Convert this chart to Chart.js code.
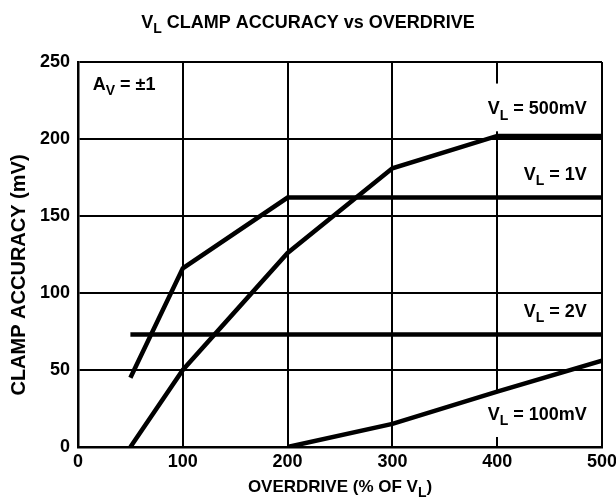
<!DOCTYPE html>
<html>
<head>
<meta charset="utf-8">
<script src="https://cdn.jsdelivr.net/npm/chart.js@4/dist/chart.umd.min.js"></script>
<style>
  html, body { margin: 0; padding: 0; background: #fff; }
  canvas { display: block; }
</style>
</head>
<body>
<canvas id="clampChart" width="616" height="499"></canvas>
<script>
// Curvas de precision del clamp (x = % de sobreexcitacion, y = mV)
const overdrive1V = [50, 100, 200, 500];
const accuracy1V = [45, 116, 162, 162];

const overdrive500mV = [50, 100, 200, 300, 400, 500];
const accuracy500mV = [0, 50, 126, 181, 202, 202];

const overdrive2V = [50, 500];
const accuracy2V = [73, 73];

const overdrive100mV = [200, 300, 400, 500];
const accuracy100mV = [0, 15, 36, 56];

const xTicks = [0, 100, 200, 300, 400, 500];
const yTicks = [0, 50, 100, 150, 200, 250];

const FONT = '"Liberation Sans", Arial, sans-serif';
const SIZE = 18;

// Junta x e y en puntos para el eje lineal
const toPoints = (xs, ys) => xs.map((x, i) => ({ x: x, y: ys[i] }));

const serie = (label, xs, ys) => ({
    label: label,
    data: toPoints(xs, ys),
    borderColor: '#000',
    borderWidth: 4.5,
    borderCapStyle: 'butt',
    pointRadius: 0,
    tension: 0,
    fill: false
});

// Dibuja texto con subindices: partes = [[texto, esSub], ...]
function drawParts(ctx, parts, x, y, size, align) {
    const subSize = Math.round(size * 0.8);
    let total = 0;
    parts.forEach(([t, sub]) => {
        ctx.font = `bold ${sub ? subSize : size}px ${FONT}`;
        total += ctx.measureText(t).width;
    });
    let cx = align === 'right' ? x - total : align === 'center' ? x - total / 2 : x;
    ctx.textAlign = 'left';
    ctx.textBaseline = 'alphabetic';
    parts.forEach(([t, sub]) => {
        ctx.font = `bold ${sub ? subSize : size}px ${FONT}`;
        ctx.fillText(t, cx, sub ? y + size * 0.3 : y);
        cx += ctx.measureText(t).width;
    });
    return total;
}

// Etiquetas de texto sobre el grafico
const textos = {
    id: 'textos',
    beforeDatasetsDraw(chart) {
        // caja blanca detras de las etiquetas que cruzan la rejilla
        const ctx = chart.ctx;
        const xs = chart.scales.x;
        const ys = chart.scales.y;
        ctx.save();
        ctx.fillStyle = '#fff';
        ctx.fillRect(xs.getPixelForValue(385), ys.getPixelForValue(236), 100, ys.getPixelForValue(205) - ys.getPixelForValue(236));
        ctx.fillRect(xs.getPixelForValue(385), ys.getPixelForValue(35), 100, ys.getPixelForValue(6.5) - ys.getPixelForValue(35));
        ctx.restore();
    },
    afterDatasetsDraw(chart) {
        const ctx = chart.ctx;
        const xs = chart.scales.x;
        const ys = chart.scales.y;
        ctx.save();
        ctx.fillStyle = '#000';

        // titulo
        drawParts(ctx, [['V', false], ['L', true], [' CLAMP ACCURACY vs OVERDRIVE', false]], 308, 28, SIZE, 'center');
        // titulo eje x
        drawParts(ctx, [['OVERDRIVE (% OF V', false], ['L', true], [')', false]], (xs.left + xs.right) / 2, 492, 17, 'center');

        // titulo eje y (vertical)
        ctx.save();
        ctx.translate(25, 275);
        ctx.rotate(-Math.PI / 2);
        ctx.font = `bold 20px ${FONT}`;
        ctx.textAlign = 'center';
        ctx.textBaseline = 'alphabetic';
        ctx.fillText('CLAMP ACCURACY (mV)', 0, 0);
        ctx.restore();

        const rx = xs.getPixelForValue(485.5);
        drawParts(ctx, [['A', false], ['V', true], [' = \u00B11', false]], xs.getPixelForValue(14), ys.getPixelForValue(232), SIZE, 'left');
        drawParts(ctx, [['V', false], ['L', true], [' = 500mV', false]], rx, ys.getPixelForValue(216), SIZE, 'right');
        drawParts(ctx, [['V', false], ['L', true], [' = 1V', false]], rx, ys.getPixelForValue(173.5), SIZE, 'right');
        drawParts(ctx, [['V', false], ['L', true], [' = 2V', false]], rx, ys.getPixelForValue(84.5), SIZE, 'right');
        drawParts(ctx, [['V', false], ['L', true], [' = 100mV', false]], rx, ys.getPixelForValue(17.5), SIZE, 'right');
        ctx.restore();
    }
};

const ctx = document.getElementById('clampChart').getContext('2d');
new Chart(ctx, {
    type: 'line',
    data: {
        datasets: [
            serie('VL = 1V', overdrive1V, accuracy1V),
            serie('VL = 500mV', overdrive500mV, accuracy500mV),
            serie('VL = 2V', overdrive2V, accuracy2V),
            serie('VL = 100mV', overdrive100mV, accuracy100mV)
        ]
    },
    options: {
        responsive: false,
        animation: false,
        layout: { padding: { top: 62, right: 14, left: 6, bottom: 0 } },
        plugins: {
            legend: { display: false },
            title: { display: false },
            tooltip: { enabled: false }
        },
        scales: {
            x: {
                type: 'linear',
                min: 0,
                max: 500,
                afterBuildTicks: s => { s.ticks = xTicks.map(v => ({ value: v })); },
                afterFit: s => { s.height = 52; s.paddingLeft = 0; s.paddingRight = 0; },
                grid: { color: '#000', lineWidth: 2, drawTicks: false },
                border: { color: '#000', width: 2.5 },
                ticks: { color: '#000', padding: 4, font: { family: FONT, size: SIZE, weight: 'bold' } }
            },
            y: {
                min: 0,
                max: 250,
                afterBuildTicks: s => { s.ticks = yTicks.map(v => ({ value: v })); },
                afterFit: s => { s.width = 72; s.paddingTop = 0; s.paddingBottom = 0; },
                grid: { color: '#000', lineWidth: 2, drawTicks: false },
                border: { color: '#000', width: 2.5 },
                ticks: { color: '#000', padding: 8, font: { family: FONT, size: SIZE, weight: 'bold' } }
            }
        }
    },
    plugins: [textos]
});
</script>
</body>
</html>
